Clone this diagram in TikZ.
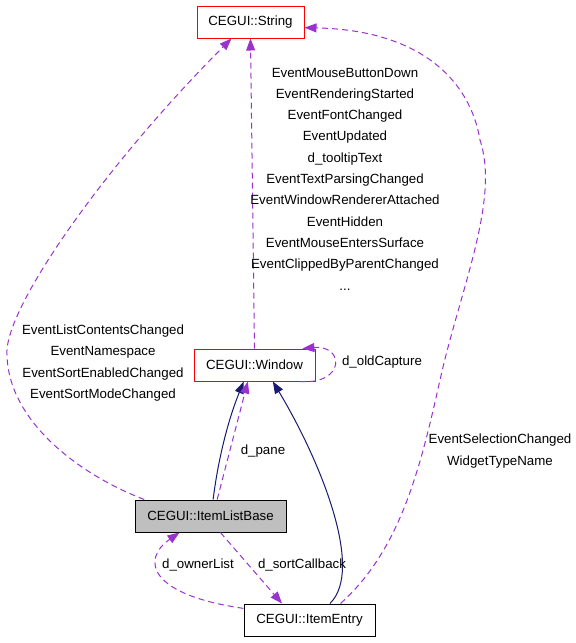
\documentclass[tikz,border=0pt]{standalone}
\usepackage{fontspec}
\setmainfont{Liberation Sans}
\usetikzlibrary{arrows.meta}
\definecolor{usepurple}{HTML}{9A32CD}
\definecolor{inhnavy}{HTML}{191970}
\definecolor{basegray}{HTML}{BFBFBF}
\begin{document}
\begin{tikzpicture}[x=1pt,y=-1pt,
    cls/.style={draw,line width=1pt,minimum height=32pt,inner sep=0pt,font=\fontsize{13.3}{15}\selectfont},
    usage/.style={usepurple,line width=1pt,dash pattern=on 6pt off 4pt,-{Triangle[length=12pt,width=9pt]}},
    inherit/.style={inhnavy,line width=1pt,-{Triangle[length=12pt,width=9pt]}},
    lbl/.style={font=\fontsize{13.3}{21.3}\selectfont,align=center,inner sep=0pt}]
    \useasboundingbox (0,0) rectangle (576,643);
    % classes
    \node[cls,draw=red,minimum width=107pt] (string) at (250.5,22) {CEGUI::String};
    \node[cls,draw=red,minimum width=121pt] (win) at (254.5,365) {CEGUI::Window};
    \node[cls,fill=basegray,minimum width=151pt] (base) at (210.5,516) {CEGUI::ItemListBase};
    \node[cls,minimum width=131pt] (entry) at (309.5,620) {CEGUI::ItemEntry};
    % inheritance
    \draw[inherit] (base.81) .. controls (218,460) and (228,420) .. (win.-123);
    \draw[inherit] (entry.39) .. controls (365,570) and (320,460) .. (win.-42);
    % usage
    \draw[usage] (win.north) -- (string.south);
    \draw[usage] (base.166) .. controls (80,475) and (5,420) .. (7,350)
        .. controls (10,300) and (110,160) .. (string.-139);
    \draw[usage] (entry.28) .. controls (400,550) and (420,470) .. (440,380)
        .. controls (460,290) and (500,200) .. (480,140)
        .. controls (470,80) and (420,30) .. (string.-6);
    \draw[usage] (base.68) -- (win.-112);
    \draw[usage] (win.-20) .. controls (345,385) and (345,345) .. (win.19);
    \draw[usage] (base.-59) -- (entry.149);
    \draw[usage] (entry.170) .. controls (150,595) and (140,560) .. (base.-152);
    % labels
    \node[lbl] (lblwin) at (345,179) {EventMouseButtonDown\\EventRenderingStarted\\EventFontChanged\\EventUpdated\\d\_tooltipText\\EventTextParsingChanged\\EventWindowRendererAttached\\EventHidden\\EventMouseEntersSurface\\EventClippedByParentChanged\\...};
    \node[lbl] (lblbase) at (103,363) {EventListContentsChanged\\EventNamespace\\EventSortEnabledChanged\\EventSortModeChanged};
    \node[lbl] (lblentry) at (500,451) {EventSelectionChanged\\WidgetTypeName};
    \node[lbl] (lblpane) at (263,451) {d\_pane};
    \node[lbl] (lblcapture) at (382,362) {d\_oldCapture};
    \node[lbl] (lblsort) at (302,565) {d\_sortCallback};
    \node[lbl] (lblowner) at (198,565) {d\_ownerList};
\end{tikzpicture}
\end{document}
